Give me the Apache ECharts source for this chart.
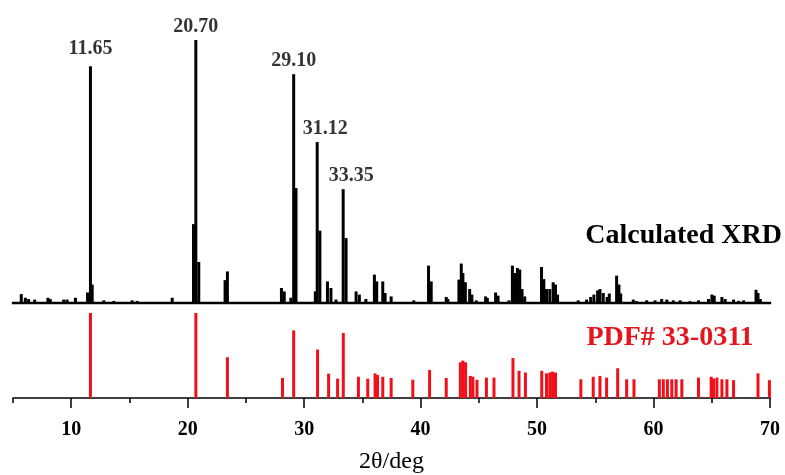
<!DOCTYPE html>
<html>
<head>
<meta charset="utf-8">
<script src="https://cdn.jsdelivr.net/npm/echarts@6/dist/echarts.min.js"></script>
<style>
  html, body { margin: 0; padding: 0; background: #fff; }
  #chart { width: 785px; height: 475px; }
</style>
</head>
<body>
<div id="chart"></div>
<script>
// calculated pattern: peak positions (2theta) and relative intensity (%)
var calcTheta = [5.71, 6.06, 6.34, 6.86, 8.0, 8.2, 9.35, 9.64, 10.36, 11.4, 11.65, 11.8, 12.8, 13.66, 15.23, 15.66, 18.67,
  20.5, 20.7, 20.95, 23.21, 23.41, 28.05, 28.29, 28.86, 29.1, 29.3, 30.96, 31.12, 31.35, 32.0, 32.3, 32.73,
  33.35, 33.6, 34.46, 34.74, 35.3, 36.03, 36.23, 36.75, 36.95, 37.47, 39.41, 40.68, 40.91, 42.2, 42.34,
  43.29, 43.49, 43.63, 43.84, 44.21, 44.4, 44.78, 45.58, 45.73, 46.44, 46.65, 47.59,
  47.88, 48.08, 48.31, 48.51, 48.71, 48.94, 50.38, 50.58, 50.81, 51.09, 51.38, 51.58, 51.76,
  53.53, 54.25, 54.6, 54.88, 55.2, 55.4, 55.68, 56.02, 56.2, 56.83, 57.03, 57.18,
  58.26, 58.55, 59.41, 60.13, 60.7, 61.14, 61.7, 62.28, 63.14, 63.86, 64.72, 65.01, 65.21, 65.87, 66.15,
  66.87, 67.3, 67.73, 68.8, 68.97, 69.17];
var calcIntensity = [3.4, 2, 1.5, 1.3, 2, 1.5, 1.3, 1.3, 2, 4, 90, 7, 1, 0.8, 1, 0.8, 2,
  30, 100, 15.6, 8.7, 12, 5.7, 4.4, 2, 87, 43.7, 4.4, 61.2, 27.5, 8.2, 5.7, 1.3,
  43.3, 24.7, 4.4, 3.2, 1.5, 10.8, 8.2, 8.2, 3.8, 2.5, 1, 14.2, 8.2, 2.3, 1.5,
  8.9, 15, 11.4, 7.9, 5.3, 3.2, 1, 2.5, 1.9, 4, 2.8, 1,
  14.2, 11.4, 13.3, 12.7, 5.3, 2.5, 13.7, 9.1, 5.3, 5.3, 7.9, 7, 3.2,
  1, 1.3, 2.3, 3.2, 4.8, 5.3, 3.8, 2.3, 3.6, 10.4, 7, 3.6,
  1.3, 0.7, 1, 1, 1.5, 1.3, 1, 1, 0.7, 1, 1.5, 3.2, 2.8, 2.3, 1.5,
  1.3, 0.8, 1, 5, 3.8, 1.5];
// ends of the calculated pattern's flat baseline
var baselineTheta = [4.9, 70.1];
var baselineIntensity = [0, 0];

// labelled peaks
var peakTheta = [11.65, 20.70, 29.10, 31.12, 33.35];
var peakIntensity = [90, 100, 87, 61.2, 43.3];
var peakText = ["11.65", "20.70", "29.10", "31.12", "33.35"];

// PDF# 33-0311 reference lines
var pdfTheta = [11.65, 20.70, 23.41, 28.14, 29.1, 31.15, 32.1, 32.87, 33.36, 34.66, 35.46, 36.09, 36.3, 36.75, 37.47,
  39.33, 40.77, 42.2, 43.41, 43.63, 43.86, 44.27, 44.49, 44.84, 45.65, 46.3, 47.93, 48.45, 49.0,
  50.4, 50.81, 51.09, 51.33, 51.58, 53.76, 54.82, 55.4, 55.97, 56.92, 57.69, 58.32,
  60.5, 60.84, 61.19, 61.57, 61.94, 62.43, 63.86, 64.95, 65.15, 65.44, 65.87, 66.3, 66.87, 68.97, 69.95];
var pdfIntensity = [100, 100, 48, 23.5, 79.5, 57, 28.6, 22.7, 76.5, 25, 22.7, 29, 27, 25, 23.5,
  21.5, 33, 23.5, 42, 44, 42, 26, 25, 21.5, 24, 24, 47, 32, 30,
  32, 29, 30, 31, 30, 22, 25, 26, 24, 35, 22, 22,
  22, 22, 22, 22, 22, 22, 24, 25, 23, 24, 22, 22, 21, 29, 21];

var majorTicks = [10, 20, 30, 40, 50, 60, 70];
var minorTicks = [5, 15, 25, 35, 45, 55, 65];

var serif = '"Liberation Serif", "DejaVu Serif", serif';
var labelOffsets = [[0, -4], [0, 0], [0, 0], [8, 0], [8, 0]];

var myChart = echarts.init(document.getElementById("chart"));

var option = {
  animation: false,
  backgroundColor: "#fff",
  grid: [
    { left: 13, right: 15, top: 40, bottom: 172 },
    { left: 13, right: 15, top: 313, bottom: 76 }
  ],
  xAxis: [
    {
      gridIndex: 0, type: "value", min: 5, max: 70, position: "bottom",
      axisLine: { show: false }, axisTick: { show: false }, axisLabel: { show: false }, splitLine: { show: false }
    },
    {
      gridIndex: 1, type: "value", min: 5, max: 70, position: "bottom",
      axisLine: { show: true, onZero: false, lineStyle: { color: "#000", width: 1.5 } },
      axisTick: { show: true, customValues: majorTicks, length: 10, lineStyle: { color: "#000", width: 1.5 } },
      axisLabel: {
        show: true, customValues: majorTicks, margin: 22,
        color: "#000", fontFamily: serif, fontWeight: "bold", fontSize: 20
      },
      splitLine: { show: false },
      name: "2θ/deg", nameLocation: "middle", nameGap: 52,
      nameTextStyle: { color: "#000", fontFamily: serif, fontSize: 24 }
    },
    {
      gridIndex: 1, type: "value", min: 5, max: 70, position: "bottom",
      axisLine: { show: false, onZero: false },
      axisTick: { show: true, customValues: minorTicks, length: 5, lineStyle: { color: "#000", width: 1.5 } },
      axisLabel: { show: false }, splitLine: { show: false }
    }
  ],
  yAxis: [
    { gridIndex: 0, type: "value", min: 0, max: 100, show: false },
    { gridIndex: 1, type: "value", min: 0, max: 100, show: false }
  ],
  graphic: [
    {
      type: "text", x: 782, y: 236,
      style: { text: "Calculated XRD", align: "right", verticalAlign: "middle", fill: "#000",
        font: 'bold 28px "Liberation Serif", serif' }
    },
    {
      type: "text", x: 670, y: 338,
      style: { text: "PDF# 33-0311", align: "center", verticalAlign: "middle", fill: "#e3161d",
        font: 'bold 28px "Liberation Serif", serif' }
    }
  ],
  series: [
    {
      name: "baseline",
      type: "line",
      xAxisIndex: 0, yAxisIndex: 0,
      symbol: "none",
      clip: false,
      lineStyle: { color: "#000", width: 2.5 },
      data: baselineTheta.map(function (t, i) { return [t, baselineIntensity[i]]; })
    },
    {
      name: "Calculated XRD",
      type: "bar",
      xAxisIndex: 0, yAxisIndex: 0,
      barWidth: 3,
      clip: false,
      itemStyle: { color: "#000" },
      data: calcTheta.map(function (t, i) { return [t, calcIntensity[i]]; })
    },
    {
      name: "peaks",
      type: "scatter",
      xAxisIndex: 0, yAxisIndex: 0,
      symbolSize: 1,
      itemStyle: { color: "rgba(0,0,0,0)" },
      label: {
        show: true, position: "top", distance: 3,
        color: "#000", fontFamily: serif, fontWeight: "bold", fontSize: 20,
        formatter: function (p) { return peakText[p.dataIndex]; }
      },
      data: peakTheta.map(function (t, i) {
        return { value: [t, peakIntensity[i]], label: { offset: labelOffsets[i] } };
      })
    },
    {
      name: "PDF# 33-0311",
      type: "bar",
      xAxisIndex: 1, yAxisIndex: 1,
      barWidth: 3,
      clip: false,
      itemStyle: { color: "#f0101a" },
      data: pdfTheta.map(function (t, i) { return [t, pdfIntensity[i]]; })
    }
  ]
};

myChart.setOption(option);
</script>
</body>
</html>
